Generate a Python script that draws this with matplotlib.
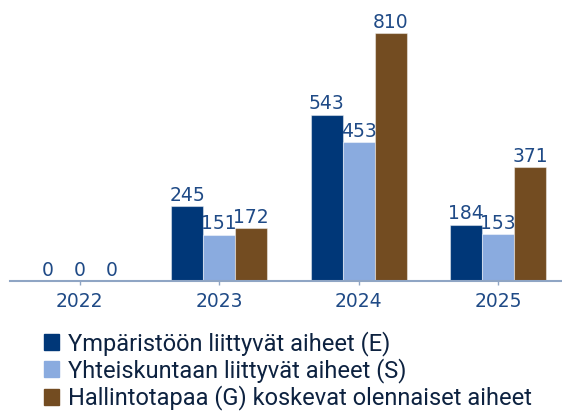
import numpy as np
import matplotlib
matplotlib.use("Agg")
import matplotlib.pyplot as plt
from matplotlib.patches import Patch

years = ["2022", "2023", "2024", "2025"]
env_E = [0, 245, 543, 184]
soc_S = [0, 151, 453, 153]
gov_G = [0, 172, 810, 371]
series_names = ["Ympäristöön liittyvät aiheet (E)",
                "Yhteiskuntaan liittyvät aiheet (S)",
                "Hallintotapaa (G) koskevat olennaiset aiheet"]
colors = ["#003778", "#8aabdf", "#734c21"]

fig = plt.figure(figsize=(5.62, 4.12), dpi=100)
ax = fig.add_axes([10 / 562, 1 - 281 / 412, 558 / 562, 281 / 412])

x = np.arange(len(years))
w = 0.229
label_col = "#1f4a86"
for i, (vals, c) in enumerate(zip([env_E, soc_S, gov_G], colors)):
    bars = ax.bar(x + (i - 1) * w, vals, width=w, color=c,
                  edgecolor=(1, 1, 1, 0.45), linewidth=0.8)
    ax.bar_label(bars, padding=1, color=label_col, fontsize=13.5)

ax.set_xlim(-0.5, 3.5)
ax.set_ylim(0, 918)
ax.set_xticks(x, years)
ax.tick_params(axis="x", colors="#8fa5c4", length=3, width=1, pad=5,
               labelcolor=label_col, labelsize=13.5)
ax.set_yticks([])
for s in ["top", "right", "left"]:
    ax.spines[s].set_visible(False)
ax.spines["bottom"].set_color("#8fa5c4")
ax.spines["bottom"].set_linewidth(1.5)

handles = [Patch(color=c) for c in colors]
fig.legend(handles, series_names, loc="upper left",
           bbox_to_anchor=(44 / 562, 1 - 331 / 412), frameon=False,
           prop={"family": ["Roboto", "DejaVu Sans"], "size": 17},
           labelcolor="#0d2240", handlelength=0.65, handleheight=0.65,
           handletextpad=0.35, labelspacing=0.1, borderpad=0, borderaxespad=0)

fig.savefig("out.png", dpi=100)
